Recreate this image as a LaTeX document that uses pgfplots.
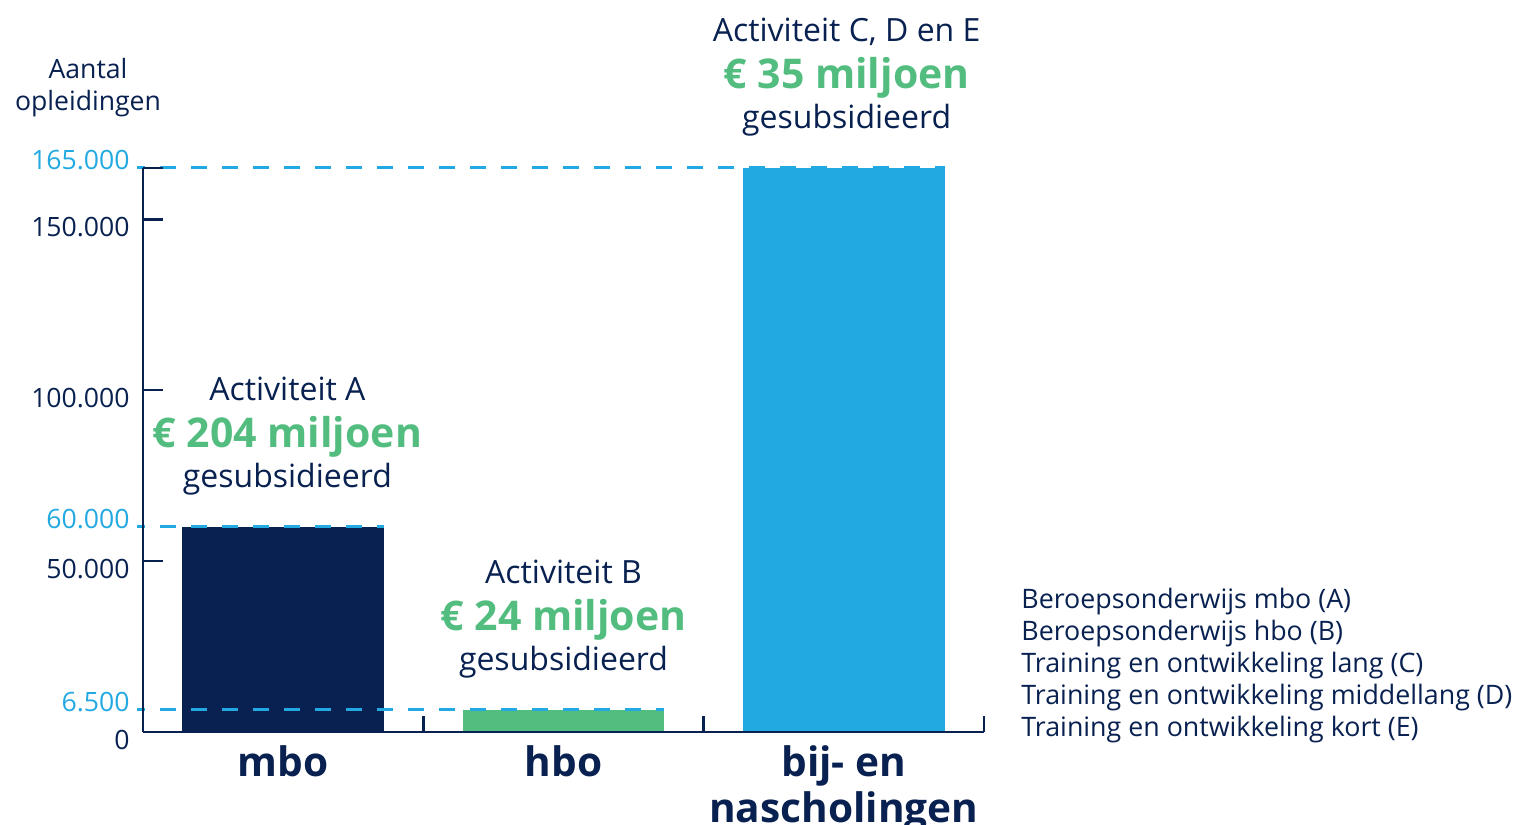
\documentclass[border=0pt]{standalone}
\usepackage{fontspec}
\setmainfont{Open Sans}
\newcommand{\xbold}{\bfseries}
\usepackage{pgfplots}
\pgfplotsset{compat=1.18}
\definecolor{navy}{RGB}{8,33,80}
\definecolor{sgreen}{RGB}{83,189,128}
\definecolor{sblue}{RGB}{35,169,225}
\begin{document}
\begin{tikzpicture}[x=0.5pt,y=0.5pt]
\useasboundingbox (0,0) rectangle (1519,824);
\begin{axis}[
  at={(71.5pt,46pt)}, anchor=south west,
  scale only axis, width=420.5pt, height=282pt,
  xmin=-0.5, xmax=2.5, ymin=0, ymax=165000,
  scaled y ticks=false,
  axis lines=left,
  axis line style={navy, line width=1.3pt, -},
  axis on top,
  clip=false,
  xtick={0,1,2},
  xticklabels={mbo,hbo,{bij- en\\nascholingen}},
  xticklabel style={align=center, inner sep=0pt, anchor=north, yshift=-6.5pt,
    font=\xbold\fontsize{20.3}{23}\selectfont, text=navy},
  major x tick style={draw=none},
  minor xtick={0.5,1.5,2.5},
  minor x tick style={navy, line width=1.3pt},
  minor tick length=8pt,
  ytick={0,50000,100000,150000},
  yticklabels={0,50.000,100.000,150.000},
  yticklabel style={inner sep=0pt, anchor=east, xshift=-6.5pt, yshift=-4pt,
    font=\fontsize{13.3}{16}\selectfont, text=navy},
  major y tick style={navy, line width=1.3pt},
  extra y ticks={165000},
  extra y tick labels={},
  extra y tick style={major tick style={navy!60, line width=1.3pt}},
  tick align=inside,
  major tick length=10pt,
]
\addplot[ybar, bar width=0.72, bar shift=0pt, fill=navy, draw=none] coordinates {(0,60000)};
\addplot[ybar, bar width=0.72, bar shift=0pt, fill=sgreen, draw=none] coordinates {(1,6500)};
\addplot[ybar, bar width=0.72, bar shift=0pt, fill=sblue, draw=none] coordinates {(2,165000)};

\draw[sblue, line width=1.5pt, dash pattern=on 7.8pt off 7.7pt, dash phase=3.8pt]
  ([xshift=-3pt]axis cs:-0.5,165000) -- (axis cs:2.36,165000);
\draw[sblue, line width=1.5pt, dash pattern=on 7.8pt off 7.7pt, dash phase=3.8pt]
  ([xshift=-3pt]axis cs:-0.5,60000) -- (axis cs:0.36,60000);
\draw[sblue, line width=1.5pt, dash pattern=on 7.8pt off 7.7pt, dash phase=3.8pt]
  ([xshift=-3pt]axis cs:-0.5,6500) -- (axis cs:1.36,6500);

\node[anchor=east, inner sep=0pt, text=sblue, font=\fontsize{13.3}{16}\selectfont,
    xshift=-6.5pt, yshift=4pt] at (axis cs:-0.5,165000) {165.000};
\node[anchor=east, inner sep=0pt, text=sblue, font=\fontsize{13.3}{16}\selectfont,
    xshift=-6.5pt, yshift=4pt] at (axis cs:-0.5,60000) {60.000};
\node[anchor=east, inner sep=0pt, text=sblue, font=\fontsize{13.3}{16}\selectfont,
    xshift=-6.5pt, yshift=4pt] at (axis cs:-0.5,6500) {6.500};

\node[anchor=base, inner sep=0pt, text=navy, font=\fontsize{16}{18}\selectfont, yshift=63pt]
  at (axis cs:0.015,60000) {Activiteit A};
\node[anchor=base, inner sep=0pt, text=sgreen, font=\xbold\fontsize{20.5}{22}\selectfont, yshift=39.5pt]
  at (axis cs:0.015,60000) {€ 204 miljoen};
\node[anchor=base, inner sep=0pt, text=navy, font=\fontsize{16}{18}\selectfont, yshift=19.5pt]
  at (axis cs:0.015,60000) {gesubsidieerd};

\node[anchor=base, inner sep=0pt, text=navy, font=\fontsize{16}{18}\selectfont, yshift=63pt]
  at (axis cs:1,6500) {Activiteit B};
\node[anchor=base, inner sep=0pt, text=sgreen, font=\xbold\fontsize{20.5}{22}\selectfont, yshift=39.5pt]
  at (axis cs:1,6500) {€ 24 miljoen};
\node[anchor=base, inner sep=0pt, text=navy, font=\fontsize{16}{18}\selectfont, yshift=19.5pt]
  at (axis cs:1,6500) {gesubsidieerd};

\node[anchor=base, inner sep=0pt, text=navy, font=\fontsize{16}{18}\selectfont, yshift=63pt]
  at (axis cs:2.01,165000) {Activiteit C, D en E};
\node[anchor=base, inner sep=0pt, text=sgreen, font=\xbold\fontsize{20.5}{22}\selectfont, yshift=39.5pt]
  at (axis cs:2.01,165000) {€ 35 miljoen};
\node[anchor=base, inner sep=0pt, text=navy, font=\fontsize{16}{18}\selectfont, yshift=19.5pt]
  at (axis cs:2.01,165000) {gesubsidieerd};
\end{axis}

\node[align=center, inner sep=0pt, text=navy, font=\fontsize{13.3}{16}\selectfont]
  at (88,736) {Aantal\\opleidingen};
\node[align=left, anchor=west, inner sep=0pt, text=navy, font=\fontsize{13.4}{16}\selectfont]
  at (1021,158) {Beroepsonderwijs mbo (A)\\Beroepsonderwijs hbo (B)\\Training en ontwikkeling lang (C)\\Training en ontwikkeling middellang (D)\\Training en ontwikkeling kort (E)};
\end{tikzpicture}
\end{document}
